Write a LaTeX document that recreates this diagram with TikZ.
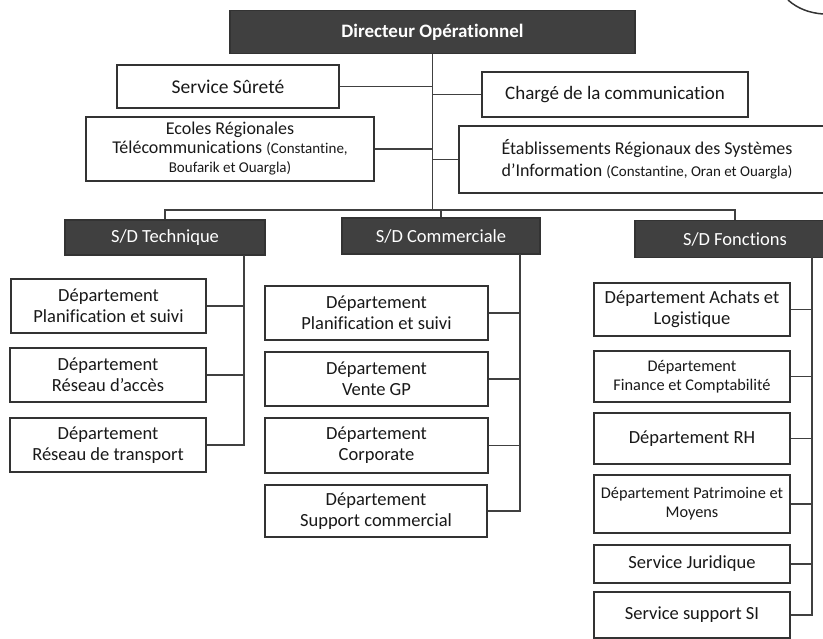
\documentclass[tikz,border=0pt]{standalone}
\usepackage{fontspec}
\setmainfont{Carlito}[Ligatures=NoCommon]
\usetikzlibrary{calc,positioning}

\begin{document}
\begin{tikzpicture}[
	%	style def
	x=1pt, y=-1pt,
	dark box/.style={draw=black!80, fill=black!75, text=white, line width=1.2pt, inner sep=2pt, align=center, font=\fontsize{18.5}{21}\selectfont},
	light box/.style={draw=black!80, fill=white, text=black!90, line width=1.3pt, inner sep=2pt, align=center, font=\fontsize{18.5}{21}\selectfont},
	small text/.style={font=\fontsize{16.3}{19}\selectfont},
	tree line/.style={draw=black!75, line width=1.4pt},
	every node/.style={anchor=center}
	]

	% page frame
	\useasboundingbox (0,0) rectangle (823,639);
	\fill[white] (0,0) rectangle (823,639);
	\clip (0,0) rectangle (823,639);

	% top level
	\node[dark box, minimum width=405pt, minimum height=43pt, font=\bfseries\fontsize{19}{22}\selectfont] (dir) at (432.5,32) {Directeur Opérationnel};

	% staff boxes beside the trunk
	\node[light box, minimum width=222pt, minimum height=43pt, font=\fontsize{19.5}{22}\selectfont] (surete) at (228,86.5) {Service Sûreté};
	\node[light box, minimum width=266pt, minimum height=45pt, font=\fontsize{19}{22}\selectfont] (charge) at (615,94.5) {Chargé de la communication};
	\node[light box, minimum width=288pt, minimum height=64pt, font=\fontsize{18}{19}\selectfont] (ecoles) at (230,149) {Ecoles Régionales\\Télécommunications {\fontsize{15}{17}\selectfont(Constantine,}\\{\fontsize{15}{17}\selectfont Boufarik et Ouargla)}};
	\node[light box, minimum width=376pt, minimum height=67pt, font=\fontsize{18}{22}\selectfont] (etab) at (647,159.5) {Établissements Régionaux des Systèmes\\d’Information {\fontsize{15}{17}\selectfont(Constantine, Oran et Ouargla)}};

	% sub-directions
	\node[dark box, minimum width=200pt, minimum height=35pt] (tech) at (165,237.5) {S/D Technique};
	\node[dark box, minimum width=198pt, minimum height=36pt] (com) at (441,236) {S/D Commerciale};
	\node[dark box, minimum width=200pt, minimum height=37pt] (fon) at (735,239) {S/D Fonctions};

	% S/D Technique departments
	\node[light box, minimum width=195pt, minimum height=54pt] (t1) at (108.5,306) {Département\\Planification et suivi};
	\node[light box, minimum width=196pt, minimum height=54pt] (t2) at (108,375) {Département\\Réseau d’accès};
	\node[light box, minimum width=196pt, minimum height=54pt] (t3) at (108,445) {Département\\Réseau de transport};

	% S/D Commerciale departments
	\node[light box, minimum width=223pt, minimum height=54pt] (c1) at (376.5,313) {Département\\Planification et suivi};
	\node[light box, minimum width=223pt, minimum height=54pt] (c2) at (376.5,379) {Département\\Vente GP};
	\node[light box, minimum width=223pt, minimum height=55pt] (c3) at (376.5,445.5) {Département\\Corporate};
	\node[light box, minimum width=222pt, minimum height=52pt] (c4) at (376,511) {Département\\Support commercial};

	% S/D Fonctions departments
	\node[light box, minimum width=196pt, minimum height=53pt] (f1) at (692,309.5) {Département Achats et\\Logistique};
	\node[light box, small text, minimum width=196pt, minimum height=51pt] (f2) at (692,376.5) {Département\\Finance et Comptabilité};
	\node[light box, minimum width=196pt, minimum height=51pt] (f3) at (692,438.5) {Département RH};
	\node[light box, small text, minimum width=196pt, minimum height=58pt] (f4) at (692,504) {Département Patrimoine et\\Moyens};
	\node[light box, minimum width=196pt, minimum height=38pt] (f5) at (692,564) {Service Juridique};
	\node[light box, minimum width=196pt, minimum height=46pt] (f6) at (692,615) {Service support SI};

	% trunk and bus
	\coordinate (bus) at (432.5,210);
	\draw[tree line] (dir.south) -- (bus);
	\draw[tree line] (surete.east) -- (surete.east -| bus);
	\draw[tree line] (charge.west) -- (charge.west -| bus);
	\draw[tree line] (ecoles.east) -- (ecoles.east -| bus);
	\draw[tree line] (etab.west) -- (etab.west -| bus);
	\draw[tree line] (tech.north) |- (bus) -| (fon.north);
	\draw[tree line] (com.north) -- (com.north |- bus);

	% branches of each sub-direction
	\coordinate (tech trunk) at (244,255);
	\coordinate (com trunk) at (520,254);
	\coordinate (fon trunk) at (812,257.5);
	\draw[tree line] (tech trunk) |- (t3.east);
	\foreach \d in {t1,t2}
		\draw[tree line] (\d.east) -- (\d.east -| tech trunk);
	\draw[tree line] (com trunk) |- (c4.east);
	\foreach \d in {c1,c2,c3}
		\draw[tree line] (\d.east) -- (\d.east -| com trunk);
	\draw[tree line] (fon trunk) |- (f6.east);
	\foreach \d in {f1,f2,f3,f4,f5}
		\draw[tree line] (\d.east) -- (\d.east -| fon trunk);

	% stamp edge, top right
	\draw[black!80, line width=1.5pt] (788,0) .. controls (798,9) and (810,13) .. (823,14);
\end{tikzpicture}
\end{document}
